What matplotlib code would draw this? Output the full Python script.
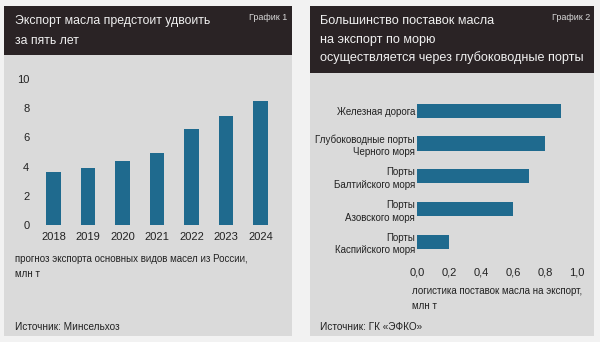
#!/usr/bin/env python
#-*- coding: utf-8 -*-
"""
Экспорт масла: прогноз по годам и логистика поставок
"""

import matplotlib
matplotlib.use('Agg')
import matplotlib.pyplot as plt
from matplotlib.patches import Rectangle

plt.rcParams['font.family'] = ['Liberation Sans Narrow', 'Liberation Sans', 'DejaVu Sans']

# график 1: прогноз экспорта, млн т
years = ['2018', '2019', '2020', '2021', '2022', '2023', '2024']
export = [3.6, 3.9, 4.35, 4.9, 6.6, 7.5, 8.5]

# график 2: логистика поставок, млн т
routes = ['Железная дорога', 'Глубоководные порты\nЧерного моря',
          'Порты\nБалтийского моря', 'Порты\nАзовского моря',
          'Порты\nКаспийского моря']
volumes = [0.9, 0.8, 0.7, 0.6, 0.2]

title1 = ['Экспорт масла предстоит удвоить', 'за пять лет']
title2 = ['Большинство поставок масла', 'на экспорт по морю',
          'осуществляется через глубоководные порты']

W, H = 600, 342
BAR = '#1f6a8e'
PANEL = '#dadada'
HEAD = '#2a2325'
TXT = '#222222'


def box(x0, y0, x1, y1):
    "pixel box (top-left origin) -> figure fraction rect"
    return [x0 / W, 1 - y1 / H, (x1 - x0) / W, (y1 - y0) / H]


def rect(fig, x0, y0, x1, y1, color):
    l, b, w, h = box(x0, y0, x1, y1)
    fig.patches.append(Rectangle((l, b), w, h, transform=fig.transFigure,
                                 facecolor=color, edgecolor='none', zorder=-10))


def ftext(fig, x, y, s, **kw):
    fig.text(x / W, 1 - y / H, s, **kw)


def strip(ax):
    for sp in ax.spines.values():
        sp.set_visible(False)
    ax.set_facecolor('none')
    ax.tick_params(length=0, colors=TXT)


def main():
    fig = plt.figure(figsize=(6, 3.42), dpi=100)
    fig.patch.set_facecolor('#f2f2f2')

    # подложки панелей и шапки
    rect(fig, 4, 6, 292, 336, PANEL)
    rect(fig, 310, 6, 594, 336, PANEL)
    rect(fig, 4, 6, 292, 55, HEAD)
    rect(fig, 310, 6, 594, 73, HEAD)

    for i, line in enumerate(title1):
        ftext(fig, 15, 21 + 20 * i, line, color='#f0f0f0', fontsize=8.8,
              va='center')
    ftext(fig, 287, 17, 'График 1', color='#d8d8d8', fontsize=6.5,
          ha='right', va='center')
    for i, line in enumerate(title2):
        ftext(fig, 320, 21 + 18.5 * i, line, color='#f0f0f0', fontsize=9.1,
              va='center')
    ftext(fig, 590, 17, 'График 2', color='#d8d8d8', fontsize=6.5,
          ha='right', va='center')

    # график 1
    ax1 = fig.add_axes(box(36.25, 79, 277.75, 225))
    strip(ax1)
    ax1.bar(range(len(years)), export, 0.43, color=BAR)
    ax1.set_xlim(-0.5, len(years) - 0.5)
    ax1.set_ylim(0, 10)
    ax1.set_yticks(range(0, 11, 2))
    ax1.set_xticks(range(len(years)))
    ax1.set_xticklabels(years)
    ax1.tick_params(axis='y', pad=5, labelsize=8)
    ax1.tick_params(axis='x', pad=5, labelsize=8)

    ftext(fig, 15, 266.5, 'прогноз экспорта основных видов масел из России,\nмлн т',
          color=TXT, fontsize=7.0, va='center', linespacing=1.6)
    ftext(fig, 15, 327, 'Источник: Минсельхоз', color=TXT, fontsize=7.2,
          va='center')

    # график 2
    ax2 = fig.add_axes(box(417, 94.3, 577, 258.4))
    strip(ax2)
    ypos = range(len(routes))
    ax2.barh(ypos, volumes, 0.43, color=BAR)
    ax2.set_xlim(0, 1.0)
    ax2.set_ylim(len(routes) - 0.5, -0.5)
    ax2.set_xticks([0, 0.2, 0.4, 0.6, 0.8, 1.0])
    ax2.set_xticklabels(['0,0', '0,2', '0,4', '0,6', '0,8', '1,0'])
    ax2.set_yticks(list(ypos))
    ax2.set_yticklabels(routes, multialignment='right', linespacing=1.3)
    ax2.tick_params(axis='y', pad=1.5, labelsize=7.0)
    ax2.tick_params(axis='x', pad=6.5, labelsize=8)

    ftext(fig, 412, 298.5, 'логистика поставок масла на экспорт,\nмлн т',
          color=TXT, fontsize=7.0, va='center', linespacing=1.6)
    ftext(fig, 320, 327, 'Источник: ГК «ЭФКО»', color=TXT, fontsize=7.2,
          va='center')

    plt.savefig('out.png', dpi=100, facecolor=fig.get_facecolor())
    plt.close()


if __name__ == '__main__':
    main()
